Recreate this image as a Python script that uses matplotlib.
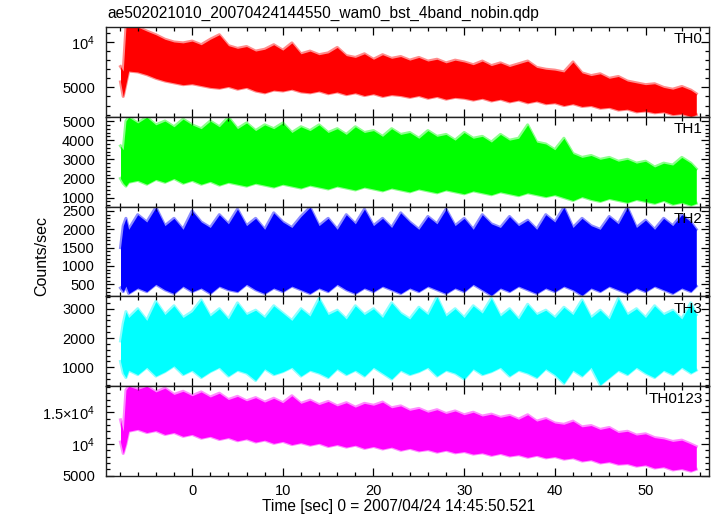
# Curvas de luz WAM (4 bandas + soma) lidas do arquivo qdp
import matplotlib
matplotlib.use("Agg")
import matplotlib.pyplot as plt
from matplotlib.ticker import MultipleLocator

plt.rcParams["font.family"] = ["Liberation Sans", "DejaVu Sans"]
plt.rcParams["mathtext.fontset"] = "custom"
plt.rcParams["mathtext.rm"] = "Liberation Sans"
plt.rcParams["mathtext.it"] = "Liberation Sans:italic"

TITLE = "ae502021010_20070424144550_wam0_bst_4band_nobin.qdp"
XLABEL = "Time [sec] 0 = 2007/04/24 14:45:50.521"

# tempo (s) das amostras do envelope
times = [-7.9, -7.6, -7.3, -7, -6, -5, -4, -3, -2, -1, 0, 1, 2, 3, 4, 5, 6, 7, 8, 9,
         10, 11, 12, 13, 14, 15, 16, 17, 18, 19, 20, 21, 22, 23, 24, 25, 26, 27, 28, 29,
         30, 31, 32, 33, 34, 35, 36, 37, 38, 39, 40, 41, 42, 43, 44, 45, 46, 47, 48, 49,
         50, 51, 52, 53, 54, 55, 55.6]

# envelopes superior / inferior (counts/sec) de cada banda
th0_hi = [7300, 6800, 11650, 11650, 11650, 11200, 10800, 10300, 10000, 9900, 10100, 9700, 10300, 10800, 9600, 9300,
          9500, 9000, 9200, 9700, 9100, 9900, 8700, 9000, 8600, 8800, 9400, 8500, 8300, 8700, 8100, 8600, 8200, 8400,
          8000, 8300, 7900, 8100, 7700, 8000, 7800, 7500, 7900, 7400, 7700, 7300, 7600, 7900, 7200, 7000, 6900, 6700,
          7800, 6600, 6300, 6500, 6000, 6200, 5700, 5500, 5300, 5400, 5000, 4800, 5100, 4700, 4300]
th0_lo = [5600, 4000, 5400, 6800, 6700, 6400, 6000, 5700, 5500, 5300, 5400, 5200, 5000, 4900, 5100, 4800, 5000, 4600,
          4400, 4700, 4600, 4800, 4500, 4400, 4600, 4300, 4500, 4200, 4400, 4100, 4300, 4000, 4200, 4100, 3900, 4100,
          3800, 4000, 3700, 3900, 3800, 3600, 3800, 3500, 3700, 3400, 3600, 3300, 3500, 3200, 3300, 3000, 3200, 2900,
          3000, 2700, 2800, 2500, 2600, 2300, 2400, 2200, 2300, 2000, 2100, 1800, 2000]

th1_hi = [3700, 3500, 5000, 5200, 4900, 5200, 4800, 5000, 4700, 5100, 4800, 4600, 5000, 4700, 5200, 4600, 4900, 4500,
          4800, 4600, 4900, 4400, 4700, 4500, 4800, 4400, 4600, 4300, 4700, 4400, 4500, 4200, 4600, 4300, 4400, 4100,
          4500, 4200, 4300, 4000, 4400, 4100, 4200, 3900, 4300, 4000, 4100, 4800, 3900, 3800, 3500, 4100, 3300, 3100,
          3200, 3000, 3100, 2900, 3000, 2800, 2900, 2600, 2800, 2700, 3100, 2800, 2500]
th1_lo = [2000, 1750, 1600, 1800, 1900, 1700, 1950, 1800, 2000, 1750, 1900, 1700, 1850, 1650, 1800, 1700, 1600, 1750,
          1650, 1550, 1700, 1600, 1500, 1650, 1550, 1450, 1600, 1500, 1400, 1550, 1450, 1350, 1500, 1400, 1300, 1450,
          1350, 1250, 1400, 1300, 1200, 1350, 1250, 1150, 1300, 1200, 1100, 1250, 1150, 1050, 1150, 1000, 850, 1050,
          900, 800, 950, 850, 750, 900, 800, 700, 850, 650, 750, 600, 700]

th2_hi = [1500, 2100, 2300, 2000, 2400, 2200, 2600, 2100, 2300, 2000, 2500, 2200, 2050, 2400, 2150, 2550, 2100, 2300,
          2000, 2450, 2200, 2050, 2350, 2600, 2100, 2300, 2000, 2400, 2150, 2550, 2100, 2300, 2050, 2450, 2200, 2000,
          2350, 2150, 2550, 2100, 2300, 2000, 2400, 2150, 2050, 2350, 2100, 2250, 2000, 2400, 2200, 2600, 2050, 2300,
          2100, 2000, 2350, 2150, 2600, 2050, 2250, 2000, 2300, 2100, 2400, 2200, 2000]
th2_lo = [400, 300, 450, 250, 400, 300, 500, 350, 250, 450, 300, 400, 250, 450, 350, 300, 500, 350, 250, 400, 300, 450,
          350, 250, 400, 300, 500, 350, 250, 400, 300, 450, 350, 250, 400, 300, 450, 350, 250, 400, 300, 500, 350, 200,
          400, 300, 450, 350, 250, 400, 300, 450, 350, 200, 400, 300, 450, 350, 250, 400, 300, 450, 350, 250, 400, 300,
          450]

th3_hi = [1900, 2500, 2900, 2700, 3000, 2600, 3250, 2800, 3100, 2700, 2900, 3300, 2750, 3000, 2650, 3200, 2800, 2950,
          2700, 3100, 2850, 2600, 3000, 2750, 3350, 2800, 2950, 2650, 3100, 2800, 3000, 2700, 3200, 2850, 2650, 3050,
          2800, 3400, 2750, 3000, 2700, 3100, 2850, 3350, 2750, 3000, 2650, 3150, 2800, 2950, 2700, 3050, 2800, 3300,
          2700, 2950, 2650, 3350, 2800, 3000, 2700, 3100, 2800, 2950, 2650, 3200, 2800]
th3_lo = [1200, 800, 650, 900, 750, 1000, 700, 850, 1050, 750, 900, 650, 850, 1000, 700, 900, 800, 550, 950, 750, 850,
          1000, 700, 900, 800, 650, 950, 750, 900, 700, 1000, 800, 600, 900, 750, 850, 1000, 700, 900, 800, 600, 950,
          750, 850, 1000, 700, 900, 800, 650, 950, 750, 450, 900, 700, 1000, 400, 650, 900, 750, 1000, 800, 650, 900,
          750, 1000, 800, 900]

th0123_hi = [13800, 12000, 18500, 19100, 18600, 19100, 18200, 18800, 17800, 18300, 17600, 18200, 17400, 18000, 17000,
             17500, 16800, 17300, 16600, 17200, 16500, 17600, 16400, 16900, 16200, 16700, 16000, 16500, 15800, 16400,
             16100, 16600, 15700, 16000, 15300, 15600, 15000, 15400, 14800, 15200, 14600, 15000, 14400, 14700, 14200,
             14500, 13900, 14600, 13600, 14000, 13300, 13100, 13600, 12700, 12900, 12300, 12600, 11800, 12000, 11400,
             11600, 11000, 10800, 10400, 10600, 10000, 9600]
th0123_lo = [10300, 8500, 10000, 12000, 12300, 11800, 12100, 11500, 11800, 11200, 11500, 10900, 11200, 10700, 11000,
             10500, 10800, 10300, 10600, 10100, 10400, 9900, 10200, 9800, 10100, 9600, 9900, 9500, 9800, 9300, 9600,
             9200, 9500, 9000, 9300, 8900, 9100, 8700, 9000, 8600, 8800, 8400, 8600, 8200, 8500, 8100, 8300, 7900, 8200,
             7800, 8000, 7600, 7800, 7300, 7500, 7000, 7200, 6800, 6900, 6500, 6700, 6200, 6400, 5900, 6100, 5700, 6000]

band_names = ["TH0", "TH1", "TH2", "TH3", "TH0123"]
band_colors = ["#ff0000", "#00ff00", "#0000ff", "#00ffff", "#ff00ff"]
band_hi = [th0_hi, th1_hi, th2_hi, th3_hi, th0123_hi]
band_lo = [th0_lo, th1_lo, th2_lo, th3_lo, th0123_lo]

ylims = [(1760, 11650), (530, 5220), (170, 2620), (355, 3420), (4950, 19100)]
yticks = [[5000, 10000], [1000, 2000, 3000, 4000, 5000], [500, 1000, 1500, 2000, 2500],
          [1000, 2000, 3000], [5000, 10000, 15000]]
ytick_labels = [["5000", "10$^4$"], ["1000", "2000", "3000", "4000", "5000"],
                ["500", "1000", "1500", "2000", "2500"], ["1000", "2000", "3000"],
                ["5000", "10$^4$", "1.5×10$^4$"]]
yminor = [1000, 200, 100, 200, 1000]

fig, axes = plt.subplots(5, 1, sharex=True, figsize=(7.17, 5.16), dpi=100)
fig.subplots_adjust(left=106 / 717, right=709 / 717, top=1 - 27 / 516, bottom=1 - 476 / 516, hspace=0)

for i, ax in enumerate(axes):
    color = band_colors[i]
    ax.fill_between(times, band_lo[i], band_hi[i], color=color, linewidth=0)
    # franja mais clara nas bordas, como os picos semitransparentes do original
    ax.plot(times, band_hi[i], color=color, linewidth=2.2, alpha=0.45)
    ax.plot(times, band_lo[i], color=color, linewidth=2.2, alpha=0.45)
    ax.set_ylim(*ylims[i])
    ax.set_yticks(yticks[i], ytick_labels[i])
    ax.yaxis.set_minor_locator(MultipleLocator(yminor[i]))
    ax.text(0.99, 0.94, band_names[i], transform=ax.transAxes, ha="right", va="top", fontsize=11)

    ax.tick_params(which="both", direction="in", top=True, right=True, labelsize=10.5, width=0.9)
    ax.tick_params(which="major", length=5.5, pad=8)
    ax.tick_params(which="minor", length=3)
    for spine in ax.spines.values():
        spine.set_linewidth(1.0)
        spine.set_color("#222222")

ax = axes[-1]
ax.set_xlim(-9.5, 57.0)
ax.xaxis.set_major_locator(MultipleLocator(10))
ax.xaxis.set_minor_locator(MultipleLocator(2))
ax.tick_params(axis="x", pad=6)

fig.text(107 / 717, 1 - 13 / 516, TITLE, ha="left", va="center", fontsize=11.2)
fig.text(399 / 717, 1 - 506 / 516, XLABEL, ha="center", va="center", fontsize=11.2)
fig.text(42 / 717, 1 - 256 / 516, "Counts/sec", ha="center", va="center", rotation=90, fontsize=11.5)

fig.savefig("out.png", dpi=100)
